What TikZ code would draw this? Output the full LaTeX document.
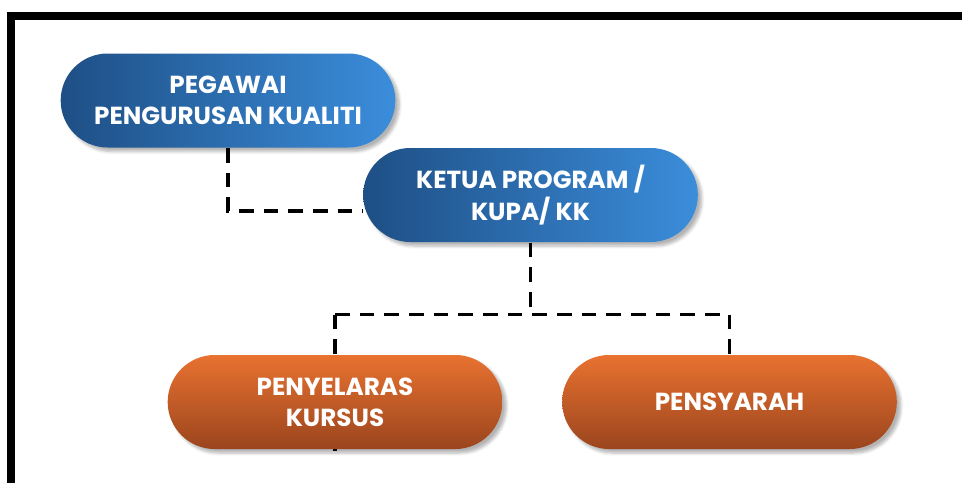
\documentclass[tikz,border=0pt]{standalone}
\usepackage{fontspec}
\setmainfont{Poppins}
\usetikzlibrary{shapes.misc,shadows.blur,backgrounds}

\definecolor{blueDark}{RGB}{30,79,133}
\definecolor{blueLight}{RGB}{59,141,219}
\definecolor{orangeTop}{RGB}{232,114,48}
\definecolor{orangeBot}{RGB}{155,69,30}

\tikzset{every picture/.style={line width=0.75pt}}
\tikzset{
pill/.style={rounded rectangle, minimum width=251pt, minimum height=70.5pt, inner sep=0pt,
  text=white, align=center, font=\fontsize{18.5}{23.5}\selectfont\bfseries,
  blur shadow={shadow xshift=3pt, shadow yshift=-3pt, shadow opacity=30, shadow blur steps=6}},
bluepill/.style={pill, left color=blueDark, right color=blueLight},
orangepill/.style={pill, top color=orangeTop, bottom color=orangeBot},
dashline/.style={line width=2.6pt, dash pattern=on 11pt off 7.5pt}
}

\begin{document}
\begin{tikzpicture}[x=0.75pt,y=0.75pt,yscale=-1,xscale=1]
\clip (0,0) rectangle (962,482);
\useasboundingbox (0,0) rectangle (962,482);

%Frame
\draw [line width=6pt] (11,500) -- (11,15.5) -- (975,15.5) ;

% Text Node
\node [bluepill] (pegawai) at (228,100.5) {PEGAWAI\\PENGURUSAN KUALITI};
% Text Node
\node [bluepill] (ketua) at (530.5,195) {KETUA PROGRAM /\\KUPA/ KK};
% Text Node
\node [orangepill] (penyelaras) at (335,402) {PENYELARAS\\KURSUS};
% Text Node
\node [orangepill] (pensyarah) at (729.5,402) {PENSYARAH};

\begin{scope}[on background layer]
%Straight Lines
\draw [dashline] (pegawai.south) |- ([yshift=12pt]ketua.west) ;
%Straight Lines
\draw [dashline] (ketua.south) -- ++(0,72) coordinate (bus) ;
%Straight Lines
\draw [dashline] (bus -| penyelaras.north) -| (pensyarah.north) ;
%Straight Lines
\draw [dashline] (bus -| penyelaras.north) -- ([yshift=1pt]penyelaras.south) ;
\end{scope}

\end{tikzpicture}
\end{document}
